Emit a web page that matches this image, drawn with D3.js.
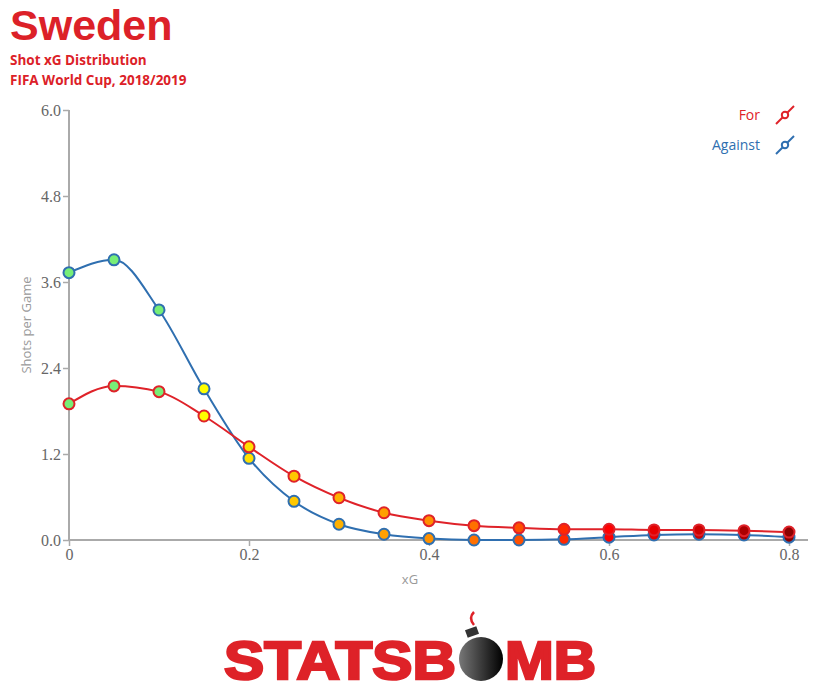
<!DOCTYPE html>
<html><head><meta charset="utf-8">
<script src="https://cdn.jsdelivr.net/npm/d3@7/dist/d3.min.js"></script>
<style>body{margin:0;background:#fff}svg{display:block}</style>
</head><body><svg id="c" width="820" height="690"></svg>
<script>
const xgBins = [0,0.05,0.1,0.15,0.2,0.25,0.3,0.35,0.4,0.45,0.5,0.55,0.6,0.65,0.7,0.75,0.8];
const forValues = [1.90,2.15,2.07,1.73,1.30,0.89,0.59,0.38,0.27,0.20,0.17,0.15,0.15,0.14,0.14,0.13,0.11];
const againstValues = [3.73,3.91,3.21,2.11,1.14,0.54,0.22,0.08,0.02,0.00,0.00,0.01,0.04,0.07,0.08,0.07,0.04];
const yTicks = [0,1.2,2.4,3.6,4.8,6.0];
const xTicks = [0,0.2,0.4,0.6,0.8];
const seriesNames = ["For","Against"];

const svg = d3.select("#c");
const red = "#df2229", blue = "#2f6fb0";
const x = d3.scaleLinear().domain([0,0.8211]).range([69,808]);
const y = d3.scaleLinear().domain([0,6]).range([540,110]);
const fillScale = d3.scaleLinear()
  .domain([0.1,0.15,0.2,0.3,0.4,0.5,0.6,0.7,0.8])
  .range(["#77ee77","#ffff00","#ffe000","#ffb000","#ff9000","#ff5000","#ff0000","#cc0000","#8b0000"])
  .clamp(true);

// titles
svg.append("text").attr("x",10).attr("y",40).attr("fill","#dc2128")
  .style("font-family","Liberation Sans, Arial, sans-serif").style("font-weight","bold").style("font-size","43px").text("Sweden");
svg.append("text").attr("x",10).attr("y",65).attr("fill","#dc2128")
  .style("font-family","Open Sans, sans-serif").style("font-weight","bold").style("font-size","13.5px").text("Shot xG Distribution");
svg.append("text").attr("x",10).attr("y",85).attr("fill","#dc2128")
  .style("font-family","Open Sans, sans-serif").style("font-weight","bold").style("font-size","13.5px").text("FIFA World Cup, 2018/2019");

// axes
const yAxis = svg.append("g").attr("transform","translate(69,0)")
  .call(d3.axisLeft(y).tickValues(yTicks).tickFormat(d3.format(".1f")).tickSize(6).tickPadding(2));
const xAxis = svg.append("g").attr("transform","translate(0,540)")
  .call(d3.axisBottom(x).tickValues(xTicks).tickFormat(d=>d===0?"0":d3.format(".1f")(d)).tickSize(6).tickPadding(3));
[yAxis,xAxis].forEach(a=>{
  a.select(".domain").attr("stroke","#aaa").attr("stroke-width",2);
  a.selectAll(".tick line").attr("stroke","#aaa").attr("stroke-width",1.5);
  a.selectAll(".tick text").attr("fill","#666").style("font-family","Liberation Serif, Times New Roman, serif").style("font-size","16px");
});
yAxis.select(".domain").attr("d","M0,110V540");
xAxis.select(".domain").attr("d","M69,0H808");

svg.append("text").attr("transform","translate(31,325) rotate(-90)").attr("text-anchor","middle")
  .attr("fill","#999").style("font-family","Open Sans, sans-serif").style("font-size","13px").text("Shots per Game");
svg.append("text").attr("x",410).attr("y",584).attr("text-anchor","middle")
  .attr("fill","#999").style("font-family","Open Sans, sans-serif").style("font-size","13px").text("xG");

// series
const line = d3.line().x((d,i)=>x(xgBins[i])).y(d=>y(d)).curve(d3.curveMonotoneX);
const series = [{name:seriesNames[1],values:againstValues,color:blue},{name:seriesNames[0],values:forValues,color:red}];
series.forEach(s=>{
  svg.append("path").attr("d",line(s.values)).attr("fill","none").attr("stroke",s.color).attr("stroke-width",2);
});
series.forEach(s=>{
  svg.append("g").selectAll("circle").data(s.values).join("circle")
    .attr("cx",(d,i)=>x(xgBins[i])).attr("cy",d=>y(d)).attr("r",5.5)
    .attr("fill",(d,i)=>fillScale(xgBins[i])).attr("stroke",s.color).attr("stroke-width",2);
});

// legend
[[seriesNames[0],red,115],[seriesNames[1],blue,145]].forEach(([n,c,ly])=>{
  svg.append("text").attr("x",760).attr("y",ly+5).attr("text-anchor","end").attr("fill",c)
    .style("font-family","Open Sans, sans-serif").style("font-size","14px").text(n);
  svg.append("line").attr("x1",776).attr("y1",ly+9).attr("x2",794).attr("y2",ly-9).attr("stroke",c).attr("stroke-width",2);
  svg.append("circle").attr("cx",785).attr("cy",ly).attr("r",3.2).attr("fill","#fff").attr("stroke",c).attr("stroke-width",2);
});

// logo
const defs = svg.append("defs");
const g = defs.append("linearGradient").attr("id","bombg").attr("x1","0").attr("x2","1").attr("y1","0").attr("y2","0");
g.append("stop").attr("offset","0").attr("stop-color","#777");
g.append("stop").attr("offset","1").attr("stop-color","#000");
const logoFont = "Liberation Sans, Arial, sans-serif";
svg.append("text").attr("x",224).attr("y",679).attr("fill","#de2228").attr("stroke","#de2228").attr("stroke-width",2.5)
  .attr("textLength",232).attr("lengthAdjust","spacingAndGlyphs")
  .style("font-family",logoFont).style("font-weight","bold").style("font-size","54px").text("STATSB");
svg.append("text").attr("x",505).attr("y",679).attr("fill","#de2228").attr("stroke","#de2228").attr("stroke-width",2.5)
  .attr("textLength",91).attr("lengthAdjust","spacingAndGlyphs")
  .style("font-family",logoFont).style("font-weight","bold").style("font-size","54px").text("MB");
svg.append("path").attr("d","M474,625 Q468,618 474,612").attr("fill","none").attr("stroke","#de2228").attr("stroke-width",2.5);
svg.append("rect").attr("x",466).attr("y",628).attr("width",12).attr("height",8).attr("fill","#333").attr("transform","rotate(-20,472,632)");
svg.append("circle").attr("cx",481).attr("cy",659).attr("r",22).attr("fill","url(#bombg)");
</script></body></html>
